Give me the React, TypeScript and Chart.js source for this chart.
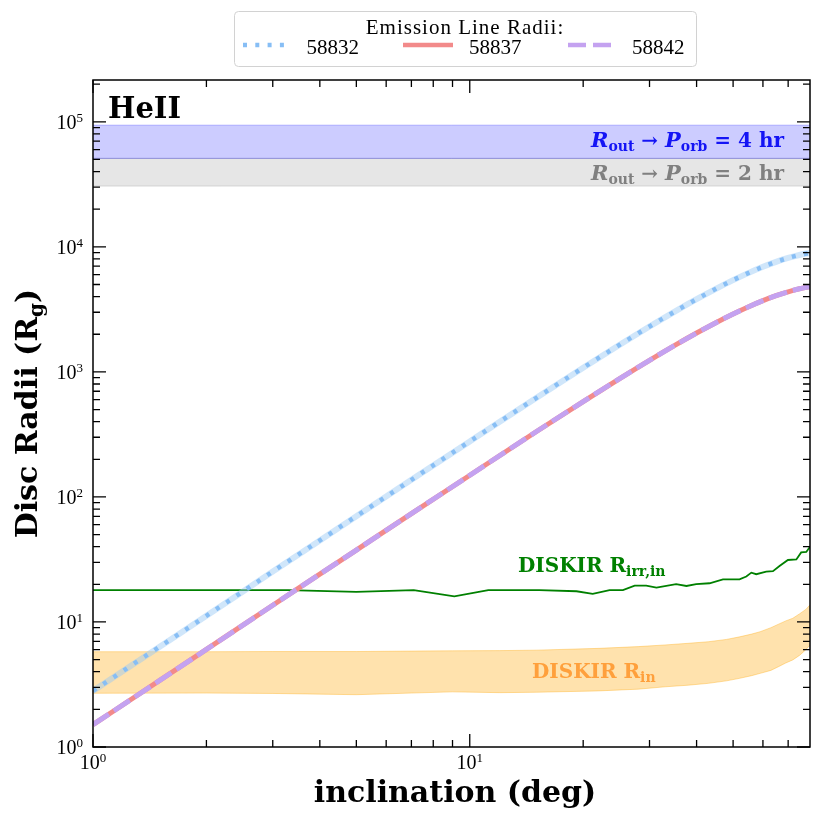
import React, { useEffect, useRef } from "react";
import { Chart, registerables } from "chart.js";

Chart.register(...registerables);

// ---------- data ----------
const X_INC = [1, 1.5, 2, 3, 4, 5, 7, 10, 15, 20, 25, 30, 35, 40, 45, 50, 55, 60, 65, 70, 75, 80];
const R_58832 = [2.81, 6.32, 11.2, 25.3, 44.9, 70.1, 137, 278, 618, 1080, 1649, 2308, 3037, 3814, 4615, 5416, 6193, 6923, 7582, 8150, 8612, 8951];
const R_58837 = [1.51, 3.39, 6.03, 13.6, 24.1, 37.6, 73.5, 149, 332, 579, 884, 1238, 1628, 2045, 2475, 2905, 3321, 3713, 4066, 4371, 4618, 4800];
const R_58842 = [1.51, 3.39, 6.03, 13.6, 24.1, 37.6, 73.5, 149, 332, 579, 884, 1238, 1628, 2045, 2475, 2905, 3321, 3713, 4066, 4371, 4618, 4800];

const X_IRR = [1, 3.3, 5.0, 7.1, 9.1, 11.2, 15.3, 19.2, 21.2, 23.5, 25.5, 27.4, 29.4, 31.3, 35.3, 37.6, 39.9, 43.3, 47.0, 52.0, 54.2, 55.9, 57.6, 61.2, 63.8, 66.4, 69.9, 73.6, 75.8, 78.2, 80];
const R_IRR = [18.0, 18.0, 17.4, 18.0, 16.0, 18.0, 18.0, 17.6, 16.8, 18.0, 18.0, 19.5, 19.5, 18.8, 20.1, 19.4, 20.1, 20.4, 21.9, 21.9, 23.1, 24.8, 24.1, 25.3, 25.5, 28.0, 31.3, 31.6, 36.0, 36.3, 39.9];

const X_RIN = [1, 2, 3, 5, 7, 9, 12, 15, 22, 28, 33, 38, 43, 48, 52, 56, 59, 63, 66, 69, 72, 75, 78, 80];
const RIN_UP = [5.78, 5.78, 5.8, 5.8, 5.85, 5.88, 5.9, 5.95, 6.15, 6.35, 6.55, 6.75, 6.95, 7.25, 7.6, 8.0, 8.36, 9.0, 9.6, 10.2, 10.7, 11.6, 12.6, 13.7];
const RIN_LO = [2.69, 2.7, 2.68, 2.62, 2.7, 2.76, 2.72, 2.74, 2.81, 2.9, 3.03, 3.12, 3.23, 3.38, 3.54, 3.72, 3.88, 4.1, 4.39, 4.7, 4.97, 5.4, 6.0, 6.55];

const BAND_X = [1, 80];
const BAND_4HR = [51000, 94000];
const BAND_2HR = [30600, 51000];

const X_MIN = 1;
const X_MAX = 80;
const Y_MIN = 1;
const Y_MAX = 216000;

const X_MAJOR = [1, 10];
const X_EXP = ["0", "1"];
const Y_MAJOR = [1, 10, 100, 1000, 10000, 100000];
const Y_EXP = ["0", "1", "2", "3", "4", "5"];

const SERIES_LABELS = ["58832", "58837", "58842"];
const LEGEND_TITLE = "Emission Line Radii:";

// ---------- styles ----------
const C_BLUE = "rgb(135,190,245)";
const C_BLUE_BG = "rgba(150,200,245,0.45)";
const C_RED = "rgb(242,138,138)";
const C_PURPLE = "rgb(196,162,240)";
const REG = '"Liberation Serif", serif';
const BOLD = '"DejaVu Serif", serif';

const pts = (xs: number[], ys: number[]) => xs.map((x, i) => ({ x, y: ys[i] }));
const flat = (xs: number[], v: number) => xs.map((x) => ({ x, y: v }));

type Part = { t: string; f: string; dy?: number };

function richWidth(ctx: CanvasRenderingContext2D, parts: Part[]) {
  let w = 0;
  for (const p of parts) {
    ctx.font = p.f;
    w += ctx.measureText(p.t).width;
  }
  return w;
}

function drawRich(ctx: CanvasRenderingContext2D, parts: Part[], x: number, y: number, align: string, color: string) {
  const w = richWidth(ctx, parts);
  let cx = align === "center" ? x - w / 2 : align === "right" ? x - w : x;
  ctx.fillStyle = color;
  ctx.textAlign = "left";
  ctx.textBaseline = "alphabetic";
  for (const p of parts) {
    ctx.font = p.f;
    ctx.fillText(p.t, cx, y + (p.dy || 0));
    cx += ctx.measureText(p.t).width;
  }
}

function minorTicks(min: number, max: number) {
  const out: number[] = [];
  for (let e = Math.floor(Math.log10(min)); e <= Math.ceil(Math.log10(max)); e++) {
    for (let m = 2; m <= 9; m++) {
      const v = m * Math.pow(10, e);
      if (v > min && v < max) out.push(v);
    }
  }
  return out;
}

const overlay = {
  id: "overlay",
  afterDraw(chart: any) {
    const ctx: CanvasRenderingContext2D = chart.ctx;
    const { left, right, top, bottom } = chart.chartArea;
    const xs = chart.scales.x;
    const ys = chart.scales.y;
    ctx.save();

    // frame
    ctx.strokeStyle = "#000";
    ctx.lineWidth = 1.5;
    ctx.strokeRect(left, top, right - left, bottom - top);

    // ticks
    ctx.lineWidth = 1.3;
    const drawX = (v: number, len: number) => {
      const px = xs.getPixelForValue(v);
      ctx.beginPath();
      ctx.moveTo(px, bottom);
      ctx.lineTo(px, bottom - len);
      ctx.moveTo(px, top);
      ctx.lineTo(px, top + len);
      ctx.stroke();
    };
    const drawY = (v: number, len: number) => {
      const py = ys.getPixelForValue(v);
      ctx.beginPath();
      ctx.moveTo(left, py);
      ctx.lineTo(left + len, py);
      ctx.moveTo(right, py);
      ctx.lineTo(right - len, py);
      ctx.stroke();
    };
    X_MAJOR.forEach((v) => drawX(v, 13));
    minorTicks(X_MIN, X_MAX).forEach((v) => drawX(v, 7));
    Y_MAJOR.forEach((v) => drawY(v, 13));
    minorTicks(Y_MIN, Y_MAX).forEach((v) => drawY(v, 7));

    // tick labels
    X_MAJOR.forEach((v, i) => {
      const px = xs.getPixelForValue(v);
      drawRich(ctx, [
        { t: "10", f: `20px ${REG}` },
        { t: X_EXP[i], f: `13px ${REG}`, dy: -7 },
      ], px, 769, "center", "#000");
    });
    Y_MAJOR.forEach((v, i) => {
      const py = ys.getPixelForValue(v);
      drawRich(ctx, [
        { t: "10", f: `20px ${REG}` },
        { t: Y_EXP[i], f: `13px ${REG}`, dy: -7 },
      ], 83, py + 7, "right", "#000");
    });

    // axis titles
    drawRich(ctx, [{ t: "inclination (deg)", f: `bold 30px ${BOLD}` }], 455, 802, "center", "#000");
    ctx.save();
    ctx.translate(37, (top + bottom) / 2);
    ctx.rotate(-Math.PI / 2);
    drawRich(ctx, [
      { t: "Disc Radii (R", f: `bold 30px ${BOLD}` },
      { t: "g", f: `bold 20px ${BOLD}`, dy: 6 },
      { t: ")", f: `bold 30px ${BOLD}` },
    ], 0, 0, "center", "#000");
    ctx.restore();

    // annotations
    drawRich(ctx, [{ t: "HeII", f: `bold 29px ${BOLD}` }], 108, 118, "left", "#000");

    const bandLabel = (hr: string): Part[] => [
      { t: "R", f: `italic bold 21px ${BOLD}` },
      { t: "out", f: `bold 14px ${BOLD}`, dy: 4 },
      { t: " \u2192 ", f: `bold 20px ${BOLD}` },
      { t: "P", f: `italic bold 21px ${BOLD}` },
      { t: "orb", f: `bold 14px ${BOLD}`, dy: 4 },
      { t: " = " + hr + " hr", f: `bold 20px ${BOLD}` },
    ];
    drawRich(ctx, bandLabel("4"), 784, 147, "right", "rgb(20,20,245)");
    drawRich(ctx, bandLabel("2"), 784, 180, "right", "rgb(128,128,128)");

    drawRich(ctx, [
      { t: "DISKIR R", f: `bold 20px ${BOLD}` },
      { t: "irr,in", f: `bold 14px ${BOLD}`, dy: 4 },
    ], 518, 572, "left", "rgb(0,128,0)");
    drawRich(ctx, [
      { t: "DISKIR R", f: `bold 20px ${BOLD}` },
      { t: "in", f: `bold 14px ${BOLD}`, dy: 4 },
    ], 532, 678, "left", "rgb(255,160,60)");

    // legend
    const lx0 = 234, ly0 = 11, lx1 = 696, ly1 = 66;
    ctx.beginPath();
    (ctx as any).roundRect(lx0 + 0.5, ly0 + 0.5, lx1 - lx0, ly1 - ly0, 4);
    ctx.fillStyle = "rgba(255,255,255,0.9)";
    ctx.fill();
    ctx.strokeStyle = "rgb(210,210,210)";
    ctx.lineWidth = 1;
    ctx.stroke();

    (ctx as any).letterSpacing = "1px";
    drawRich(ctx, [{ t: LEGEND_TITLE, f: `21px ${REG}` }], 465, 34, "center", "#000");
    (ctx as any).letterSpacing = "0px";

    const ly = 45;
    const sample = (x0: number, x1: number, color: string, dash: number[], w: number) => {
      ctx.beginPath();
      ctx.setLineDash(dash);
      ctx.lineCap = "butt";
      ctx.strokeStyle = color;
      ctx.lineWidth = w;
      ctx.moveTo(x0, ly);
      ctx.lineTo(x1, ly);
      ctx.stroke();
      ctx.setLineDash([]);
    };
    sample(243, 290, C_BLUE, [4, 8.3], 4.5);
    sample(403, 453, C_RED, [], 4.5);
    sample(568, 613, C_PURPLE, [18, 7], 4.5);
    const labX = [306.5, 469, 632];
    SERIES_LABELS.forEach((s, i) => drawRich(ctx, [{ t: s, f: `21px ${REG}` }], labX[i], 54, "left", "#000"));

    ctx.restore();
  },
};

export default function App() {
  const ref = useRef<HTMLCanvasElement | null>(null);
  useEffect(() => {
    if (!ref.current) return;
    const base = { pointRadius: 0, pointHoverRadius: 0, clip: 0, tension: 0 };
    const chart = new Chart(ref.current, {
      type: "line",
      data: {
        datasets: [
          { ...base, data: flat(BAND_X, BAND_4HR[1]), borderColor: "rgba(0,0,255,0.25)", borderWidth: 1, backgroundColor: "rgba(0,0,255,0.2)", fill: "+1", order: 20 },
          { ...base, data: flat(BAND_X, BAND_4HR[0]), borderColor: "rgba(0,0,255,0.35)", borderWidth: 1, fill: false, order: 19 },
          { ...base, data: flat(BAND_X, BAND_2HR[1]), borderColor: "rgba(128,128,128,0.25)", borderWidth: 1, backgroundColor: "rgba(128,128,128,0.2)", fill: "+1", order: 18 },
          { ...base, data: flat(BAND_X, BAND_2HR[0]), borderColor: "rgba(128,128,128,0.25)", borderWidth: 1, fill: false, order: 17 },
          { ...base, data: pts(X_RIN, RIN_UP), borderColor: "rgba(255,165,0,0.35)", borderWidth: 1, backgroundColor: "rgba(255,165,0,0.32)", fill: "+1", order: 16 },
          { ...base, data: pts(X_RIN, RIN_LO), borderColor: "rgba(255,165,0,0.35)", borderWidth: 1, fill: false, order: 15 },
          { ...base, data: pts(X_IRR, R_IRR), borderColor: "rgb(0,128,0)", borderWidth: 1.8, fill: false, order: 14 },
          { ...base, data: pts(X_INC, R_58832), borderColor: C_BLUE_BG, borderWidth: 6, fill: false, cubicInterpolationMode: "monotone", order: 13 },
          { ...base, label: SERIES_LABELS[0], data: pts(X_INC, R_58832), borderColor: C_BLUE, borderWidth: 4.5, borderDash: [4, 8.3], fill: false, cubicInterpolationMode: "monotone", order: 12 },
          { ...base, label: SERIES_LABELS[1], data: pts(X_INC, R_58837), borderColor: C_RED, borderWidth: 5, fill: false, cubicInterpolationMode: "monotone", order: 11 },
          { ...base, label: SERIES_LABELS[2], data: pts(X_INC, R_58842), borderColor: C_PURPLE, borderWidth: 5, borderDash: [19, 6], fill: false, cubicInterpolationMode: "monotone", order: 10 },
        ] as any,
      },
      options: {
        responsive: false,
        animation: false,
        devicePixelRatio: 1,
        parsing: true,
        layout: { padding: { left: 93, top: 80, right: 12, bottom: 75 } },
        plugins: { legend: { display: false }, tooltip: { enabled: false }, title: { display: false } },
        events: [],
        scales: {
          x: { type: "logarithmic", min: X_MIN, max: X_MAX, display: false },
          y: { type: "logarithmic", min: Y_MIN, max: Y_MAX, display: false },
        },
      } as any,
      plugins: [overlay],
    });
    return () => chart.destroy();
  }, []);
  return (
    <div style={{ position: "absolute", left: 0, top: 0, width: 822, height: 822, background: "#fff" }}>
      <canvas ref={ref} width={822} height={822} style={{ display: "block" }} />
    </div>
  );
}
